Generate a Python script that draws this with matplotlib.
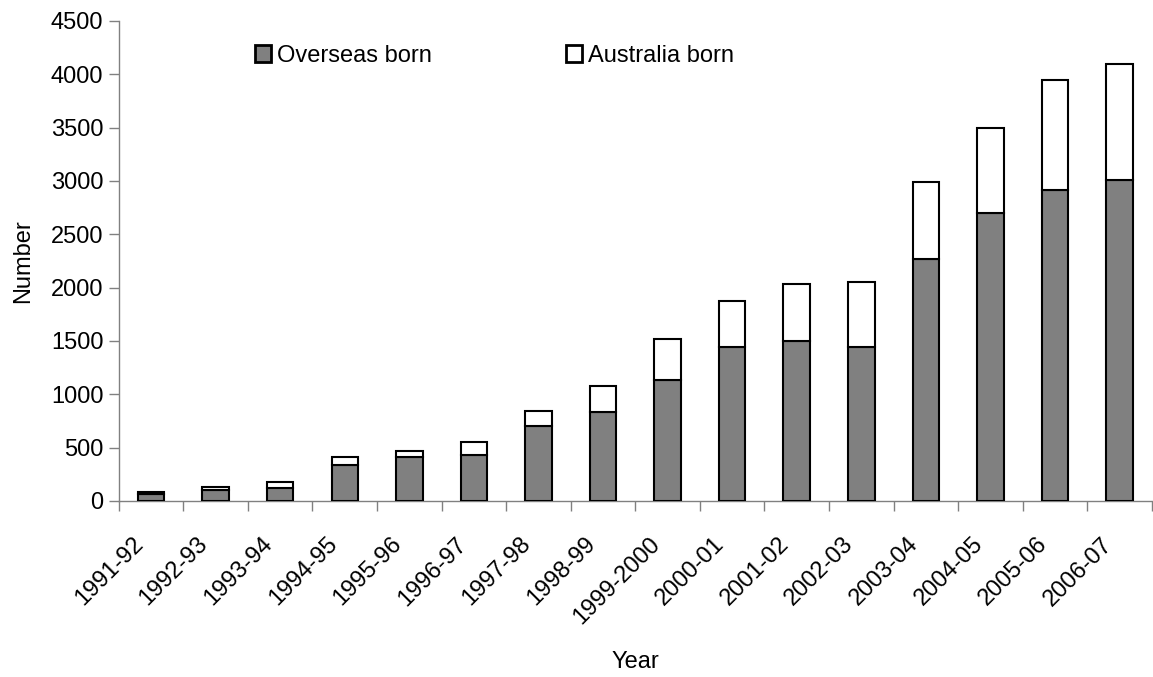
import matplotlib
matplotlib.use("Agg")
import matplotlib.pyplot as plt
import numpy as np

years = ["1991-92", "1992-93", "1993-94", "1994-95", "1995-96", "1996-97",
         "1997-98", "1998-99", "1999-2000", "2000-01", "2001-02", "2002-03",
         "2003-04", "2004-05", "2005-06", "2006-07"]
overseas = [62, 105, 125, 340, 410, 430, 705, 830, 1130, 1440, 1500, 1440,
            2265, 2700, 2915, 3010]
total = [85, 130, 175, 415, 465, 550, 840, 1075, 1515, 1875, 2030, 2050,
         2990, 3495, 3950, 4100]
australia = [t - o for t, o in zip(total, overseas)]

plt.rcParams['font.family'] = ['Liberation Sans', 'DejaVu Sans']

fig = plt.figure(figsize=(11.53, 6.77), dpi=100)
ax = fig.add_axes([0.103, 0.26, 0.896, 0.709])

x = np.arange(len(years))
w = 0.41
ax.bar(x, overseas, w, color='#808080', edgecolor='black', linewidth=1.5,
       label='Overseas born', zorder=3)
ax.bar(x, australia, w, bottom=overseas, color='white', edgecolor='black',
       linewidth=1.5, label='Australia born', zorder=3)

ax.set_xlim(-0.5, len(years) - 0.5)
ax.set_ylim(0, 4500)
ax.set_yticks(np.arange(0, 4501, 500))
ax.set_xticks(np.arange(-0.5, len(years), 1.0))
ax.set_xticklabels([])
# category labels, rotated like the reference
for i, lab in enumerate(years):
    ax.annotate(lab, xy=(x[i], 0), xycoords=('data', 'axes fraction'),
                xytext=(-11, -40), textcoords='offset pixels',
                rotation=45, ha='right', va='center',
                rotation_mode='anchor', fontsize=17, annotation_clip=False)
ax.tick_params(axis='x', length=7, width=1, color='#808080', direction='out')
ax.tick_params(axis='y', length=7, width=1, color='#808080', direction='out',
               labelsize=17, pad=4)

for s in ['top', 'right']:
    ax.spines[s].set_visible(False)
for s in ['left', 'bottom']:
    ax.spines[s].set_color('#808080')
    ax.spines[s].set_linewidth(1)

ax.set_ylabel('Number', fontsize=17, labelpad=12)
ax.set_xlabel('Year', fontsize=17)
ax.xaxis.set_label_coords(0.5, -0.3125)

leg = fig.legend(loc='center left', bbox_to_anchor=(0.221, 0.918), ncol=2,
                 frameon=False, fontsize=17, handlelength=0.7,
                 handleheight=0.7, handletextpad=0.25, columnspacing=5.65,
                 borderaxespad=0, borderpad=0)
for p in leg.get_patches():
    p.set_linewidth(2)

fig.savefig('out.png', dpi=100)
